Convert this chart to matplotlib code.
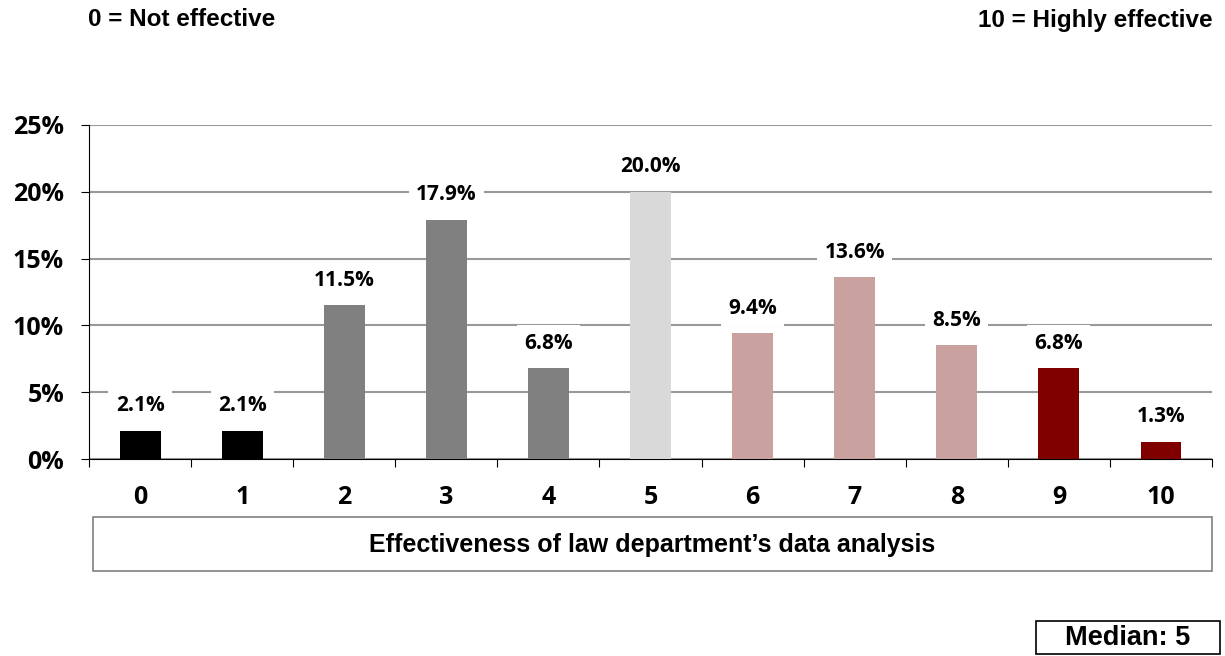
import matplotlib
matplotlib.use("Agg")
from matplotlib import pyplot as plt
from matplotlib.patches import Rectangle
import numpy as np

# data
scores = ["0", "1", "2", "3", "4", "5", "6", "7", "8", "9", "10"]
pct = [2.1, 2.1, 11.5, 17.9, 6.8, 20.0, 9.4, 13.6, 8.5, 6.8, 1.3]
bar_colors = ["#000000", "#000000", "#808080", "#808080", "#808080", "#d9d9d9",
              "#c9a19e", "#c9a19e", "#c9a19e", "#800000", "#800000"]
yticks = [0, 5, 10, 15, 20, 25]

label_font = ["Open Sans", "DejaVu Sans"]
head_font = ["Liberation Sans", "DejaVu Sans"]

fig = plt.figure(figsize=(12.25, 6.56), dpi=100)
ax = fig.add_axes([0.0727, 0.3003, 0.9167, 0.5092])

x = np.arange(len(scores))
ax.bar(x, pct, width=0.4, color=bar_colors, zorder=3)

ax.set_xlim(-0.5, len(scores) - 0.5)
ax.set_ylim(0, 25)
ax.set_yticks(yticks)
ax.set_yticklabels([f"{t}%" for t in yticks], fontsize=18, fontweight="bold", family=label_font)
ax.grid(axis="y", color="#999999", linewidth=1.5, zorder=0)

# x ticks between categories, labels under centres
ax.set_xticks(np.arange(-0.5, len(scores), 1))
ax.set_xticklabels([])
ax.set_xticks(x, minor=True)
ax.set_xticklabels(scores, minor=True, fontsize=18, fontweight="bold", family=label_font)
ax.tick_params(axis="x", which="major", length=6, direction="out", color="black")
ax.tick_params(axis="x", which="minor", length=0, pad=19)
ax.tick_params(axis="y", length=6, direction="out", color="black", pad=12)

for s in ["top", "right"]:
    ax.spines[s].set_visible(False)
ax.spines["left"].set_color("black")
ax.spines["bottom"].set_color("black")

for xi, v in zip(x, pct):
    ax.annotate(f"{v:.1f}%", (xi, v), xytext=(0, 18), textcoords="offset points",
                ha="center", va="center", fontsize=15, fontweight="bold",
                family=label_font, zorder=4,
                bbox=dict(boxstyle="square,pad=0.35", fc="white", ec="none"))

# header texts
fig.text(88 / 1225, 1 - 20 / 656, "0 = Not effective", ha="left", va="center",
         fontsize=17.5, fontweight="bold", family=head_font)
fig.text(1213 / 1225, 1 - 20 / 656, "10 = Highly effective", ha="right", va="center",
         fontsize=17.5, fontweight="bold", family=head_font)

# category box
fig.patches.append(Rectangle((93 / 1225, 1 - 571 / 656), (1212 - 93) / 1225, 54 / 656,
                             transform=fig.transFigure, fill=False, ec="#808080", lw=1.2))
fig.text((93 + 1212) / 2 / 1225, 1 - 545 / 656, "Effectiveness of law department\u2019s data analysis",
         ha="center", va="center", fontsize=18, fontweight="bold", family=head_font)

# median box
fig.patches.append(Rectangle((1036 / 1225, 1 - 654 / 656), (1220 - 1036) / 1225, 33 / 656,
                             transform=fig.transFigure, fill=False, ec="black", lw=1.2))
fig.text((1036 + 1220) / 2 / 1225, 1 - 638 / 656, "Median: 5", ha="center", va="center",
         fontsize=19.5, fontweight="bold", family=head_font)

fig.savefig("out.png", dpi=100)
